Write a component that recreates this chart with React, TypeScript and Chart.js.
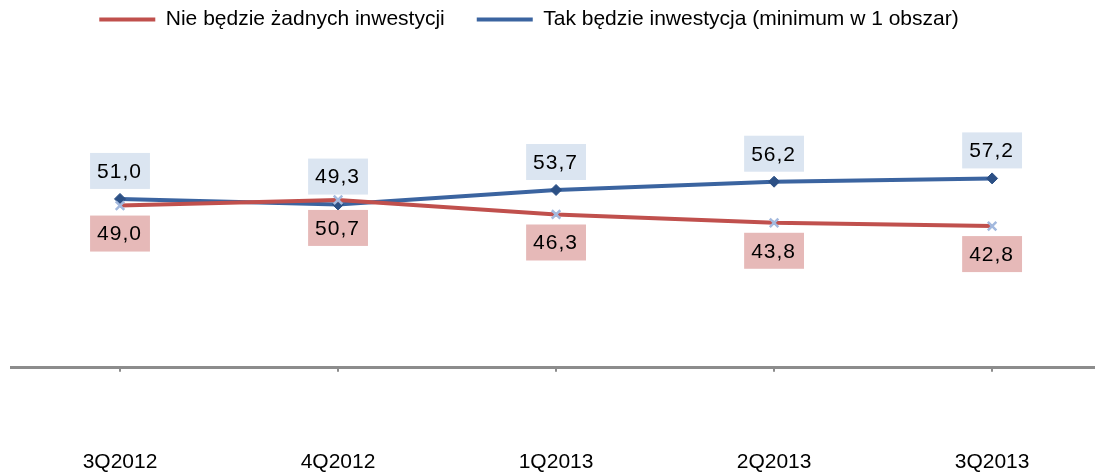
import React, { useEffect, useRef } from "react";
import { Chart, registerables } from "chart.js";

Chart.register(...registerables);

const categories = ["3Q2012", "4Q2012", "1Q2013", "2Q2013", "3Q2013"];
const noInvestment = [49.0, 50.7, 46.3, 43.8, 42.8];
const yesInvestment = [51.0, 49.3, 53.7, 56.2, 57.2];
const seriesNames = [
  "Nie będzie żadnych inwestycji",
  "Tak będzie inwestycja (minimum w 1 obszar)",
];

const RED = "#c0504d";
const BLUE = "#3b64a0";
const RED_BOX = "#e6b9b8";
const BLUE_BOX = "#dbe5f1";
const FONT = "'Liberation Sans', Arial, sans-serif";
const LEGEND_SHIFT = -24;

const labelPlugin = {
  id: "boxLabels",
  afterLayout(chart: any) {
    const lg = chart.legend;
    if (lg) {
      lg.left += LEGEND_SHIFT;
      lg.right += LEGEND_SHIFT;
    }
  },
  afterDatasetsDraw(chart: any) {
    const ctx = chart.ctx;
    ctx.save();
    ctx.font = `21px ${FONT}`;
    (ctx as any).letterSpacing = "1px";
    ctx.textBaseline = "middle";
    ctx.textAlign = "left";
    chart.data.datasets.forEach((ds: any, di: number) => {
      const meta = chart.getDatasetMeta(di);
      const above = di === 1;
      meta.data.forEach((pt: any, i: number) => {
        const v = ds.data[i].y as number;
        const txt = v.toFixed(1).replace(".", ",");
        const tw = ctx.measureText(txt).width;
        const w = tw + 15;
        const h = 36;
        const x0 = pt.x - w / 2;
        const y0 = above ? pt.y - 10 - h : pt.y + 10;
        ctx.fillStyle = above ? BLUE_BOX : RED_BOX;
        ctx.fillRect(x0, y0, w, h);
        ctx.fillStyle = "#000";
        ctx.fillText(txt, x0 + 7, y0 + h / 2 + 1);
      });
    });
    (ctx as any).letterSpacing = "0px";
    ctx.restore();
  },
};

export default function App() {
  const ref = useRef<HTMLCanvasElement | null>(null);
  useEffect(() => {
    if (!ref.current) return;
    const chart = new Chart(ref.current, {
      type: "line",
      data: {
        datasets: [
          {
            label: seriesNames[0],
            data: noInvestment.map((y, i) => ({ x: i, y })),
            borderColor: RED,
            backgroundColor: RED,
            borderWidth: 4,
            pointStyle: "crossRot",
            pointRadius: 6,
            pointBorderColor: "#a3b9de",
            pointBackgroundColor: "#a3b9de",
            pointBorderWidth: 2.5,
            tension: 0,
          },
          {
            label: seriesNames[1],
            data: yesInvestment.map((y, i) => ({ x: i, y })),
            borderColor: BLUE,
            backgroundColor: BLUE,
            borderWidth: 4,
            pointStyle: "rectRot",
            pointRadius: 5.5,
            pointBorderColor: "#2c5085",
            pointBackgroundColor: "#2c5085",
            pointBorderWidth: 1,
            tension: 0,
          },
        ],
      },
      options: {
        animation: false,
        responsive: false,
        layout: {
          autoPadding: false,
          padding: { top: -23, left: 11, right: 0, bottom: -80 },
        },
        plugins: {
          tooltip: { enabled: false },
          legend: {
            position: "top",
            align: "center",
            labels: {
              color: "#000",
              font: { family: FONT, size: 21 },
              boxWidth: 56,
              boxHeight: 4,
              padding: 32,
              generateLabels: (c: any) =>
                Chart.defaults.plugins.legend.labels
                  .generateLabels(c)
                  .map((it: any) => ({ ...it, lineWidth: 0 })),
            },
          },
        },
        scales: {
          x: {
            type: "linear",
            min: -0.5,
            max: 4.472,
            afterBuildTicks: (scale: any) => {
              scale.ticks = categories.map((_, i) => ({ value: i }));
            },
            afterFit: (scale: any) => {
              scale.paddingLeft = 0;
              scale.paddingRight = 0;
            },
            ticks: {
              autoSkip: false,
              maxRotation: 0,
              color: "#000",
              font: { family: FONT, size: 21 },
              padding: 78,
              callback: (v: any) => categories[Math.round(Number(v))] ?? "",
            },
            grid: {
              drawOnChartArea: false,
              drawTicks: true,
              tickLength: 4,
              color: "#8c8c8c",
              lineWidth: 2,
            },
            border: { display: true, color: "#8c8c8c", width: 3 },
          },
          y: {
            display: false,
            min: 0,
            max: 99,
          },
        },
      },
      plugins: [labelPlugin],
    });
    return () => chart.destroy();
  }, []);
  return (
    <div style={{ position: "absolute", left: 0, top: 0, width: 1095, height: 473 }}>
      <canvas ref={ref} width={1095} height={473} style={{ display: "block" }} />
    </div>
  );
}
